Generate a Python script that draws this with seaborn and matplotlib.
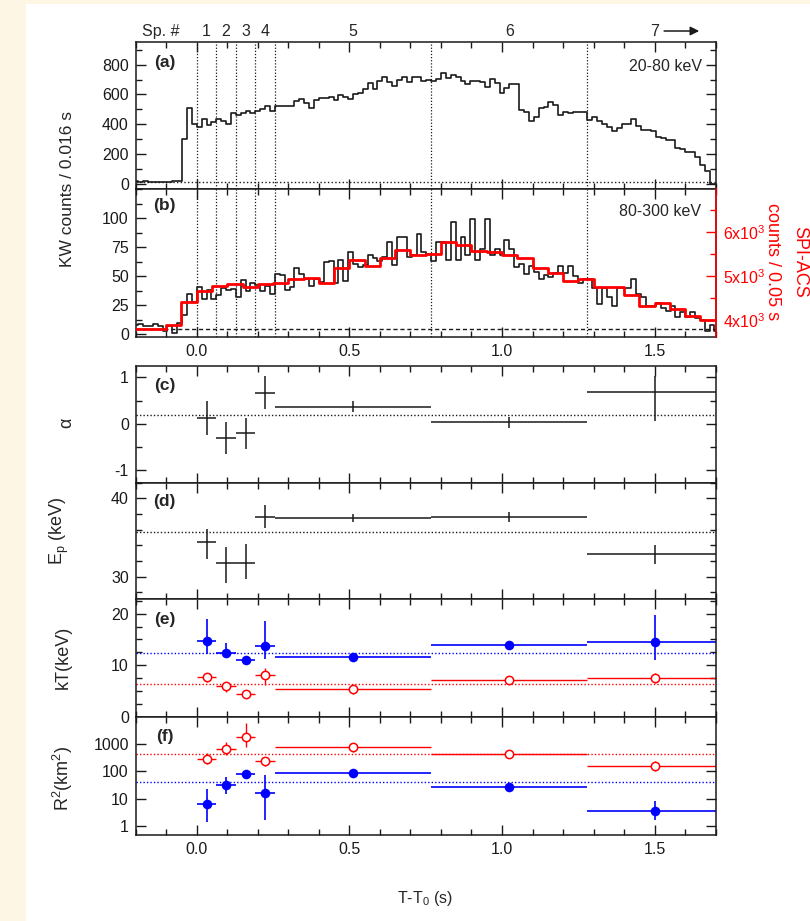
import numpy as np
import matplotlib
matplotlib.use("Agg")
import matplotlib.pyplot as plt
import seaborn as sns
from matplotlib.ticker import MultipleLocator, FuncFormatter, LogLocator, NullFormatter, FixedLocator
from matplotlib.transforms import blended_transform_factory
from matplotlib.patches import Rectangle

# ---------------- data ----------------
# Konus-Wind light curves, 0.016 s bins starting at T-T0 = -0.208 s
kw_bin = 0.016
kw_start = -0.208
kw_20_80 = [18, 15, 22, 12, 14, 12, 10, 12, 18, 22,
            300, 509, 401, 379, 433, 392, 415, 433, 419, 399,
            473, 460, 473, 487, 478, 487, 500, 522, 491, 520,
            522, 522, 525, 558, 571, 542, 508, 562, 575, 578,
            583, 562, 598, 580, 571, 602, 609, 638, 676, 638,
            692, 714, 687, 660, 699, 714, 687, 714, 718, 692,
            700, 688, 706, 745, 710, 730, 720, 693, 668, 688,
            688, 686, 648, 706, 679, 612, 646, 670, 670, 496,
            482, 424, 446, 511, 518, 549, 527, 464, 482, 473,
            482, 482, 482, 428, 446, 424, 401, 379, 357, 374,
            401, 401, 433, 388, 361, 361, 357, 312, 307, 294,
            294, 238, 231, 217, 213, 182, 126, 87, 2, 2]
kw_80_300 = [8, 8.6, 7, 7, 8.6, 7, 3, 7.5, 1.5, 9.5,
             17, 35, 28, 41, 30.5, 38, 30, 34, 40, 38,
             39, 32.5, 47, 37, 44, 42.6, 37, 41.5, 35, 52,
             51, 38, 41, 57, 52, 48, 42, 48, 45, 62,
             62.8, 44, 64, 46, 70.6, 60.5, 57.6, 60, 68.6, 65.7,
             62.8, 66.3, 79, 60, 83.5, 83.5, 66.3, 68.6, 85.9, 70.9,
             69, 62.8, 79.5, 79.5, 64, 96.5, 64, 83.5, 68.6, 98.8,
             64, 73, 98.8, 68.6, 73, 68.6, 81.5, 73, 58, 60.5,
             52, 59, 54, 48, 51, 49, 53, 59, 53, 59,
             50, 44.6, 48, 48, 40, 26, 40, 32.5, 24, 40,
             39.8, 40, 48, 34.6, 32.5, 24, 24, 26.8, 23, 20,
             24, 15, 19, 15, 19, 14.4, 12.4, 3, 8, 3]
kw_bg_20_80 = 10
kw_bg_80_300 = 5
kw_ticks_20_80 = [0, 200, 400, 600, 800]
kw_ticks_80_300 = [0, 25, 50, 75, 100]

# INTEGRAL SPI-ACS light curve, 0.05 s bins starting at T-T0 = -0.20 s
acs_bin = 0.05
acs_start = -0.20
acs_counts = [3800, 3800, 3880, 4417, 4667, 4773, 4826, 4758, 4826, 4848,
              4939, 4955, 4833, 5167, 5348, 5212, 5409, 5591, 5462, 5492,
              5765, 5689, 5561, 5538, 5462, 5415, 5167, 5068, 4894, 4939,
              4750, 4750, 4561, 4311, 4386, 4258, 4083, 4000]

# spectral intervals
spec_names = ["1", "2", "3", "4", "5", "6", "7"]
spec_lo = [0.0, 0.064, 0.128, 0.192, 0.256, 0.768, 1.28]
spec_hi = [0.064, 0.128, 0.192, 0.256, 0.768, 1.28, 1.72]
spec_mid = [0.032, 0.096, 0.160, 0.224, 0.512, 1.024, 1.50]

# CPL photon index
alpha = [0.12, -0.30, -0.21, 0.67, 0.37, 0.03, 0.69]
alpha_lo = [-0.24, -0.65, -0.54, 0.32, 0.245, -0.09, 0.065]
alpha_hi = [0.48, 0.04, 0.13, 1.03, 0.49, 0.14, 1.03]
alpha_avg = 0.19

# CPL peak energy (keV)
ep = [34.4, 31.7, 31.7, 37.65, 37.5, 37.57, 32.9]
ep_lo = [32.2, 29.2, 29.7, 36.2, 37.0, 37.0, 31.6]
ep_hi = [36.1, 33.75, 34.2, 39.1, 38.0, 38.2, 34.04]
ep_avg = 35.7

# two-blackbody temperatures (keV)
kt_hot = [14.75, 12.47, 10.95, 13.65, 11.6, 13.97, 14.43]
kt_hot_lo = [12.1, 11.5, 10.2, 11.15, 11.3, 13.2, 11.0]
kt_hot_hi = [19.0, 14.3, 11.8, 18.6, 11.8, 14.6, 19.7]
kt_hot_avg = 12.33
kt_cool = [7.67, 5.9, 4.4, 8.2, 5.3, 7.2, 7.55]
kt_cool_lo = [6.8, 4.9, 3.6, 6.2, 4.5, 6.4, 6.6]
kt_cool_hi = [8.5, 6.7, 5.1, 9.4, 6.1, 8.0, 8.5]
kt_cool_avg = 6.3

# emitting areas R^2 (km^2)
r2_hot = [6.5, 33, 82, 16, 89, 27.5, 3.5]
r2_hot_lo = [1.35, 15, 55, 1.66, 70, 20, 1.66]
r2_hot_hi = [22, 60, 112, 73, 112, 36, 8.3]
r2_hot_avg = 41.6
r2_cool = [282, 673, 1850, 238, 776, 420, 160]
r2_cool_lo = [186, 398, 800, 160, 522, 300, 105]
r2_cool_hi = [457, 1214, 5700, 343, 1116, 570, 232]
r2_cool_avg = 441

# ---------------- style ----------------
sns.set_theme(style="ticks")
plt.rcParams["font.family"] = ["Liberation Sans", "DejaVu Sans"]
plt.rcParams["mathtext.fontset"] = "custom"
plt.rcParams["mathtext.rm"] = "Liberation Sans"
plt.rcParams["mathtext.it"] = "Liberation Sans:italic"
plt.rcParams["axes.linewidth"] = 1.1
plt.rcParams["axes.unicode_minus"] = False

W, H = 810, 921
fig = plt.figure(figsize=(W / 100, H / 100), dpi=100)
fig.patch.set_facecolor("#fdf6e4")
fig.add_artist(Rectangle((26 / W, 0), 1 - 26 / W, 1 - 4 / H, transform=fig.transFigure,
                         facecolor="white", edgecolor="none", zorder=-10))

LEFT, RIGHT = 135.7, 715.7


def panel(top, bottom):
    return fig.add_axes([LEFT / W, 1 - bottom / H, (RIGHT - LEFT) / W, (bottom - top) / H])


axa = panel(42.3, 189.0)
axb = panel(189.0, 336.7)
axc = panel(365.7, 482.7)
axd = panel(482.7, 599.3)
axe = panel(599.3, 717.3)
axf = panel(717.3, 835.0)


def style(ax, labelbottom=False, right=True):
    ax.set_facecolor("white")
    ax.set_xlim(-0.2, 1.7)
    ax.xaxis.set_major_locator(MultipleLocator(0.5))
    ax.xaxis.set_minor_locator(MultipleLocator(0.1))
    ax.tick_params(which="both", direction="in", top=True, right=right, bottom=True, left=True,
                   labelbottom=labelbottom, labelsize=11.5, width=1.0, colors="k", pad=5)
    ax.tick_params(which="major", length=7.5)
    ax.tick_params(which="minor", length=4)
    for s in ax.spines.values():
        s.set_color("k")
        s.set_linewidth(1.1)
    ax.set_xlabel("")
    ax.set_ylabel("")


def steps(ax, start, width, values, **kw):
    edges = start + width * np.arange(len(values) + 1)
    yy = np.append(values, values[-1])
    sns.lineplot(x=edges, y=yy, ax=ax, drawstyle="steps-post", estimator=None,
                 sort=False, legend=False, **kw)


# (a) 20-80 keV
steps(axa, kw_start, kw_bin, kw_20_80, color="k", lw=1.2)
axa.axhline(kw_bg_20_80, color="k", ls=":", lw=1.0)
axa.set_ylim(-34, 950)
axa.yaxis.set_major_locator(FixedLocator(kw_ticks_20_80))
axa.yaxis.set_minor_locator(MultipleLocator(100))
style(axa)

# (b) 80-300 keV and SPI-ACS
steps(axb, kw_start, kw_bin, kw_80_300, color="k", lw=1.2)
axb.axhline(kw_bg_80_300, color="k", ls=(0, (3, 2)), lw=1.0)
axb.set_ylim(-2, 125)
axb.yaxis.set_major_locator(FixedLocator(kw_ticks_80_300))
axb.yaxis.set_minor_locator(MultipleLocator(12.5))
style(axb, labelbottom=True, right=False)

axb2 = axb.twinx()
steps(axb2, acs_start, acs_bin, acs_counts, color="#ff0000", lw=2.0)
axb2.set_ylim(3622, 6967)
axb2.set_xlim(-0.2, 1.7)
axb2.yaxis.set_major_locator(MultipleLocator(1000))
axb2.yaxis.set_minor_locator(MultipleLocator(500))
axb2.yaxis.set_major_formatter(FuncFormatter(lambda v, p: r"$\mathregular{%dx10^{3}}$" % round(v / 1000)))
axb2.tick_params(which="both", direction="in", right=True, left=False, colors="#ff0000",
                 labelcolor="#ff0000", labelsize=11.5, width=1.0, pad=5)
axb2.tick_params(which="major", length=7.5)
axb2.tick_params(which="minor", length=4)
axb2.spines["right"].set_color("#ff0000")
axb2.spines["right"].set_linewidth(1.1)
for s in ["left", "top", "bottom"]:
    axb2.spines[s].set_visible(False)
axb2.set_ylabel("")

for ax in (axa, axb):
    for xv in spec_lo:
        ax.axvline(xv, color="k", ls=(0, (1, 1.5)), lw=0.9, zorder=1)

# spectrum numbers above (a)
trans = blended_transform_factory(axa.transData, axa.transAxes)
axa.text(-0.117, 1.077, "Sp. #", transform=trans, ha="center", va="center", fontsize=11.5)
for name, xm in zip(spec_names, spec_mid):
    axa.text(xm, 1.077, name, transform=trans, ha="center", va="center", fontsize=11.5)
axa.annotate("", xy=(1.655, 1.077), xytext=(1.522, 1.077), xycoords=trans, textcoords=trans,
             arrowprops=dict(arrowstyle="-|>", color="k", lw=1.1, mutation_scale=13),
             annotation_clip=False)

axa.text(0.05, 0.86, "(a)", transform=axa.transAxes, ha="center", va="center",
         fontsize=12.5, fontweight="bold")
axb.text(0.05, 0.89, "(b)", transform=axb.transAxes, ha="center", va="center",
         fontsize=12.5, fontweight="bold")
axa.text(0.976, 0.832, "20-80 keV", transform=axa.transAxes, ha="right", va="center", fontsize=11.5)
axb.text(0.974, 0.849, "80-300 keV", transform=axb.transAxes, ha="right", va="center", fontsize=11.5)

mid = np.array(spec_mid)
xerr = [mid - np.array(spec_lo), np.array(spec_hi) - mid]


def crosses(ax, y, lo, hi, color, lw=1.1):
    y = np.array(y, float)
    ax.errorbar(mid, y, yerr=[y - np.array(lo), np.array(hi) - y], xerr=xerr, fmt="none",
                ecolor=color, elinewidth=lw, capsize=0, zorder=2)


# (c) alpha
crosses(axc, alpha, alpha_lo, alpha_hi, "k")
axc.axhline(alpha_avg, color="k", ls=(0, (1, 1.5)), lw=1.0)
axc.set_ylim(-1.27, 1.25)
axc.yaxis.set_major_locator(MultipleLocator(1))
axc.yaxis.set_minor_locator(MultipleLocator(0.5))
style(axc)
axc.text(0.05, 0.835, "(c)", transform=axc.transAxes, ha="center", va="center",
         fontsize=12.5, fontweight="bold")

# (d) Ep
crosses(axd, ep, ep_lo, ep_hi, "k")
axd.axhline(ep_avg, color="k", ls=(0, (1, 1.5)), lw=1.0)
axd.set_ylim(27.1, 42.0)
axd.yaxis.set_major_locator(MultipleLocator(10))
axd.yaxis.set_minor_locator(MultipleLocator(2))
style(axd)
axd.text(0.05, 0.837, "(d)", transform=axd.transAxes, ha="center", va="center",
         fontsize=12.5, fontweight="bold")


def bb_points(ax, y, lo, hi, avg, color, filled):
    crosses(ax, y, lo, hi, color, lw=1.2 if filled else 1.0)
    ax.axhline(avg, color=color, ls=(0, (1, 1.5)), lw=1.0, zorder=1)
    sns.scatterplot(x=mid, y=y, ax=ax, marker="o", s=48 if filled else 36,
                    color=color if filled else "white", edgecolor=color,
                    linewidth=0 if filled else 1.1, zorder=3, legend=False)


# (e) kT
bb_points(axe, kt_hot, kt_hot_lo, kt_hot_hi, kt_hot_avg, "#0000ff", True)
bb_points(axe, kt_cool, kt_cool_lo, kt_cool_hi, kt_cool_avg, "#ff0000", False)
axe.set_ylim(-0.1, 22.8)
axe.yaxis.set_major_locator(MultipleLocator(10))
axe.yaxis.set_minor_locator(MultipleLocator(2.5))
style(axe)
axe.text(0.05, 0.83, "(e)", transform=axe.transAxes, ha="center", va="center",
         fontsize=12.5, fontweight="bold")

# (f) R^2
bb_points(axf, r2_hot, r2_hot_lo, r2_hot_hi, r2_hot_avg, "#0000ff", True)
bb_points(axf, r2_cool, r2_cool_lo, r2_cool_hi, r2_cool_avg, "#ff0000", False)
axf.set_yscale("log")
axf.set_ylim(0.47, 9500)
style(axf, labelbottom=True)
axf.yaxis.set_major_locator(FixedLocator([1, 10, 100, 1000]))
axf.yaxis.set_major_formatter(FuncFormatter(lambda v, p: "%d" % v))
axf.yaxis.set_minor_locator(LogLocator(base=10, subs=np.arange(2, 10)))
axf.yaxis.set_minor_formatter(NullFormatter())
axf.tick_params(axis="y", which="minor", length=4)
axf.text(0.05, 0.84, "(f)", transform=axf.transAxes, ha="center", va="center",
         fontsize=12.5, fontweight="bold")

# axis titles
fig.text(68 / W, 1 - 189 / H, "KW counts / 0.016 s", rotation=90, ha="center", va="center", fontsize=12.5)
fig.text(800 / W, 1 - 262 / H, "SPI-ACS", rotation=-90, ha="center", va="center",
         fontsize=13, color="#ff0000")
fig.text(773 / W, 1 - 262 / H, "counts / 0.05 s", rotation=-90, ha="center", va="center",
         fontsize=13, color="#ff0000")
fig.text(67 / W, 1 - 423 / H, "α", rotation=90, ha="center", va="center", fontsize=13)
fig.text(59 / W, 1 - 531 / H, r"E$_\mathregular{p}$ (keV)", rotation=90, ha="center", va="center", fontsize=13)
fig.text(63 / W, 1 - 657 / H, "kT(keV)", rotation=90, ha="center", va="center", fontsize=13)
fig.text(63 / W, 1 - 778 / H, r"R$^\mathregular{2}$(km$^\mathregular{2}$)", rotation=90,
         ha="center", va="center", fontsize=13)
fig.text(425 / W, 1 - 898 / H, r"T-T$_\mathregular{0}$ (s)", ha="center", va="center", fontsize=11.5)

fig.savefig("out.png", dpi=100, facecolor=fig.get_facecolor())
